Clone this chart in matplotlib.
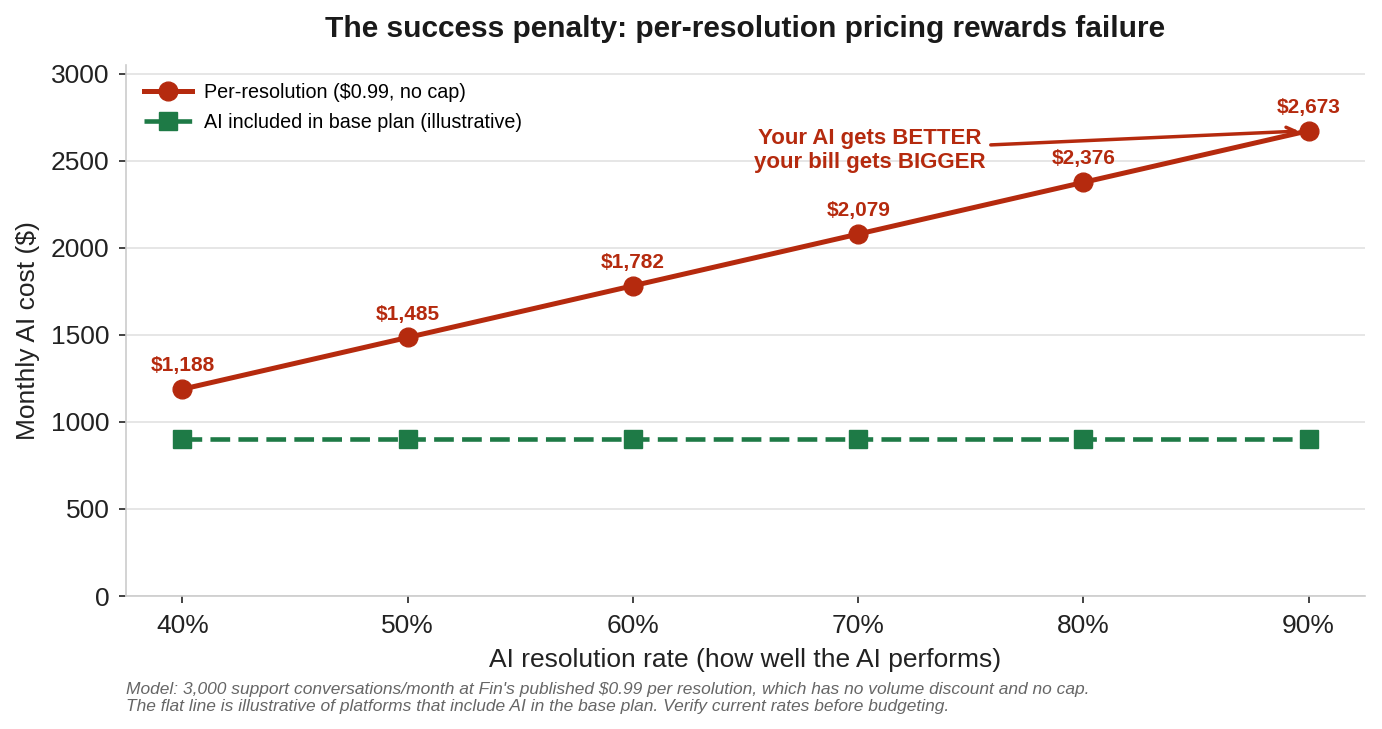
import matplotlib
matplotlib.use("Agg")
import matplotlib.pyplot as plt

rates = [40, 50, 60, 70, 80, 90]
tick_labels = ["40%", "50%", "60%", "70%", "80%", "90%"]
per_resolution = [1188, 1485, 1782, 2079, 2376, 2673]
base_plan = [900, 900, 900, 900, 900, 900]
value_labels = ["$1,188", "$1,485", "$1,782", "$2,079", "$2,376", "$2,673"]

RED = "#b52a0e"
GREEN = "#1e7a46"

plt.rcParams["font.family"] = ["Liberation Sans", "DejaVu Sans"]

fig = plt.figure(figsize=(13.82, 7.29), dpi=100)
ax = fig.add_axes([0.0912, 0.1824, 0.8965, 0.7284])

ax.plot(rates, per_resolution, color=RED, lw=3.6, marker="o", markersize=13.5,
        label="Per-resolution ($0.99, no cap)", zorder=3)
ax.plot(rates, base_plan, color=GREEN, lw=3.3, ls=(0, (4.3, 1.8)), marker="s",
        markersize=12.5, label="AI included in base plan (illustrative)", zorder=3)

for x, y, lab in zip(rates, per_resolution, value_labels):
    ax.annotate(lab, (x, y), xytext=(0, 10), textcoords="offset points",
                ha="center", va="bottom", fontsize=15, fontweight="bold", color=RED)

ax.annotate("Your AI gets BETTER\nyour bill gets BIGGER", xy=(rates[-1], per_resolution[-1]),
            xytext=(70.5, 2560), textcoords="data", ha="center", va="center",
            fontsize=16, fontweight="bold", color=RED, linespacing=1.15,
            arrowprops=dict(arrowstyle="->", color=RED, lw=2.5, shrinkB=7))

ax.set_xlim(37.5, 92.5)
ax.set_ylim(0, 3050)
ax.set_xticks(rates)
ax.set_xticklabels(tick_labels)
ax.set_yticks([0, 500, 1000, 1500, 2000, 2500, 3000])
ax.tick_params(axis="both", labelsize=19, colors="#222222", length=5, width=1.2)
ax.tick_params(axis="x", pad=8)
ax.tick_params(axis="y", pad=7)

ax.grid(axis="y", color="#e2e2e2", lw=1.2)
ax.set_axisbelow(True)
for s in ["top", "right"]:
    ax.spines[s].set_visible(False)
for s in ["left", "bottom"]:
    ax.spines[s].set_color("#cccccc")
    ax.spines[s].set_linewidth(1.2)

ax.set_xlabel("AI resolution rate (how well the AI performs)", fontsize=19, color="#222222", labelpad=7)
ax.set_ylabel("Monthly AI cost ($)", fontsize=19, color="#222222", labelpad=8)
ax.set_title("The success penalty: per-resolution pricing rewards failure", fontsize=21.5,
             fontweight="bold", color="#1a1a1a", pad=20)

leg = ax.legend(loc="upper left", frameon=False, fontsize=14.2, handlelength=2.45,
                borderaxespad=0.5, labelspacing=0.55, handletextpad=0.6)

fig.text(0.0912, 0.021, "Model: 3,000 support conversations/month at Fin's published $0.99 per resolution, which has no volume discount and no cap.\n"
         "The flat line is illustrative of platforms that include AI in the base plan. Verify current rates before budgeting.",
         fontsize=12.5, style="italic", color="#666666", ha="left", va="bottom", linespacing=1.1)

fig.savefig("out.png", dpi=100)
